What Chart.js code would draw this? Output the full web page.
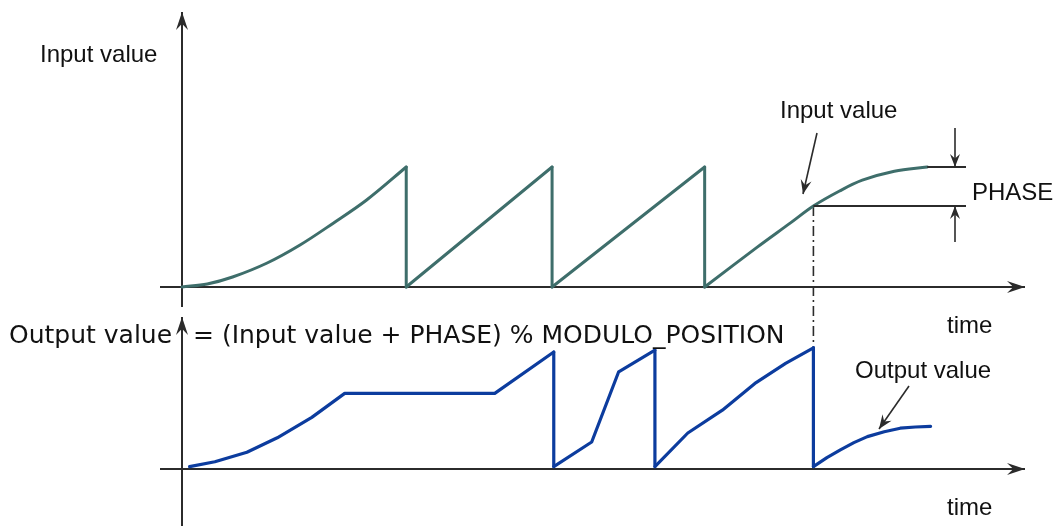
<!DOCTYPE html>
<html>
<head>
<meta charset="utf-8">
<title>Input / output value with PHASE</title>
<script src="https://cdn.jsdelivr.net/npm/chart.js@4.4.1/dist/chart.umd.min.js"></script>
<style>
    body { margin: 0; background: #fff; }
    #wrap { position: relative; width: 1058px; height: 526px; }
</style>
</head>
<body>
<div id="wrap"><canvas id="chart" width="1058" height="526"></canvas></div>
<script>
// ==========================================================================
// Data (time in arbitrary units 0..10, values in units of MODULO_POSITION)
// ==========================================================================
const inputTime  = [0, 0.30, 0.60, 1.01, 1.40, 1.79, 2.19, 2.66, 2.66, 4.39, 4.39, 6.20, 6.20, 6.82, 7.21, 7.49, 7.80, 8.07, 8.45, 8.84];
const inputValue = [0, 0.025, 0.083, 0.20, 0.35, 0.53, 0.725, 1.0, 0, 1.0, 0, 1.0, 0, 0.33, 0.53, 0.675, 0.80, 0.89, 0.965, 1.0];

const outputTime  = [0.09, 0.39, 0.77, 1.13, 1.54, 1.93, 3.71, 4.41, 4.41, 4.86, 5.18, 5.61, 5.61, 6.00, 6.41, 6.81, 7.16, 7.49, 7.49, 7.65, 7.81, 7.97, 8.13, 8.33, 8.52, 8.70, 8.88];
const outputValue = [0.02, 0.06, 0.14, 0.26, 0.43, 0.63, 0.63, 0.975, 0.02, 0.225, 0.81, 0.99, 0.02, 0.30, 0.49, 0.72, 0.88, 1.01, 0.02, 0.095, 0.16, 0.22, 0.27, 0.31, 0.34, 0.35, 0.355];

const phaseTime = 7.49;
const phaseInput = 0.675;      // input value at that instant
const phaseTop = 1.0;          // final input level
const phaseOutputPeak = 1.01;  // output value just before wrap at that instant

// ==========================================================================
// Styling
// ==========================================================================
const AXIS_COLOR = '#2b2b2b';
const TEXT_COLOR = '#111';
const INPUT_COLOR = '#3e6e6b';
const OUTPUT_COLOR = '#0c3c9e';
const LABEL_FONT = '24px "Liberation Sans", Arial, sans-serif';
const FORMULA_FONT = '25px "DejaVu Sans", Verdana, sans-serif';

function arrowHead(ctx, x, y, angle, len, half) {
    ctx.save();
    ctx.translate(x, y);
    ctx.rotate(angle);
    ctx.beginPath();
    ctx.moveTo(0, 0);
    ctx.lineTo(-len, -half);
    ctx.lineTo(-len * 0.65, 0);
    ctx.lineTo(-len, half);
    ctx.closePath();
    ctx.fill();
    ctx.restore();
}

function line(ctx, x1, y1, x2, y2) {
    ctx.beginPath();
    ctx.moveTo(x1, y1);
    ctx.lineTo(x2, y2);
    ctx.stroke();
}

function arrow(ctx, x1, y1, x2, y2, len, half) {
    line(ctx, x1, y1, x2, y2);
    arrowHead(ctx, x2, y2, Math.atan2(y2 - y1, x2 - x1), len, half);
}

// Split a series at its vertical jumps so smooth parts can be curved
// without the wrap-around edges being rounded off.
function pieces(ts, vs) {
    const out = [];
    let cur = [{ x: ts[0], y: vs[0] }];
    for (let i = 1; i < ts.length; i++) {
        if (ts[i] === ts[i - 1]) {
            out.push({ pts: cur, jump: false });
            out.push({ pts: [{ x: ts[i - 1], y: vs[i - 1] }, { x: ts[i], y: vs[i] }], jump: true });
            cur = [{ x: ts[i], y: vs[i] }];
        } else {
            cur.push({ x: ts[i], y: vs[i] });
        }
    }
    out.push({ pts: cur, jump: false });
    return out;
}

function seriesDatasets(label, ts, vs, axis, color, width, tension) {
    return pieces(ts, vs).map(p => ({
        label: label,
        data: p.pts,
        yAxisID: axis,
        borderColor: color,
        borderWidth: width,
        borderCapStyle: 'round',
        borderJoinStyle: 'round',
        pointRadius: 0,
        tension: p.jump ? 0 : tension,
        clip: false,
    }));
}

// ==========================================================================
// Axes and annotations plugin
// ==========================================================================
const diagramPlugin = {
    id: 'diagram',
    beforeDatasetsDraw(chart) {
        const { ctx, scales } = chart;
        const x = scales.x, yIn = scales.yIn, yOut = scales.yOut;
        const x0 = x.getPixelForValue(0);
        const xEnd = x.getPixelForValue(10);
        const yIn0 = yIn.getPixelForValue(0);
        const yOut0 = yOut.getPixelForValue(0);

        ctx.save();
        ctx.strokeStyle = AXIS_COLOR;
        ctx.fillStyle = AXIS_COLOR;
        ctx.lineWidth = 2;

        // top axes
        arrow(ctx, x0, yIn0 + 20, x0, chart.chartArea.top, 18, 6);
        arrow(ctx, x0 - 22, yIn0, xEnd, yIn0, 18, 6);
        // bottom axes
        arrow(ctx, x0, chart.height, x0, yOut0 - 152, 18, 6);
        arrow(ctx, x0 - 22, yOut0, xEnd, yOut0, 18, 6);

        // dash-dot link between the two plots
        const xp = x.getPixelForValue(phaseTime);
        ctx.lineWidth = 1.6;
        ctx.setLineDash([10, 4, 2, 4]);
        line(ctx, xp, yIn.getPixelForValue(phaseInput), xp, yOut.getPixelForValue(phaseOutputPeak));
        ctx.setLineDash([]);
        ctx.restore();
    },
    afterDatasetsDraw(chart) {
        const { ctx, scales } = chart;
        const x = scales.x, yIn = scales.yIn;
        const xp = x.getPixelForValue(phaseTime);
        const yLow = yIn.getPixelForValue(phaseInput);
        const yHigh = yIn.getPixelForValue(phaseTop);
        const xLast = x.getPixelForValue(inputTime[inputTime.length - 1]);

        ctx.save();
        ctx.strokeStyle = AXIS_COLOR;
        ctx.fillStyle = AXIS_COLOR;

        // PHASE dimension
        ctx.lineWidth = 2;
        line(ctx, xp, yLow, 966, yLow);
        line(ctx, xLast, yHigh, 966, yHigh);
        ctx.lineWidth = 1.6;
        arrow(ctx, 955, 128, 955, yHigh, 13, 5);
        arrow(ctx, 955, 242, 955, yLow, 13, 5);

        // pointer arrows
        arrow(ctx, 817, 133, 803, 194, 14, 5.5);
        arrow(ctx, 909, 386, 879, 429, 14, 5.5);

        // texts
        ctx.fillStyle = TEXT_COLOR;
        ctx.textBaseline = 'alphabetic';
        ctx.font = LABEL_FONT;
        ctx.textAlign = 'left';
        ctx.fillText('Input value', 40, 62);
        ctx.fillText('Input value', 780, 118);
        ctx.fillText('PHASE', 972, 200);
        ctx.fillText('time', 947, 333);
        ctx.fillText('Output value', 855, 378);
        ctx.fillText('time', 947, 515);

        ctx.font = FORMULA_FONT;
        ctx.fillText('Output value', 9, 343);
        ctx.fillText('= (Input value + PHASE) % MODULO_POSITION', 193, 343);
        ctx.restore();
    }
};

// ==========================================================================
// Chart
// ==========================================================================
new Chart(document.getElementById('chart'), {
    type: 'line',
    data: {
        datasets: [
            ...seriesDatasets('Input value', inputTime, inputValue, 'yIn', INPUT_COLOR, 3, 0.35),
            ...seriesDatasets('Output value', outputTime, outputValue, 'yOut', OUTPUT_COLOR, 3.2, 0),
        ]
    },
    options: {
        responsive: false,
        animation: false,
        devicePixelRatio: 1,
        layout: { padding: { left: 182, right: 33, top: 12, bottom: 57 } },
        scales: {
            x: { type: 'linear', min: 0, max: 10, display: false },
            // both value scales: 120 px per unit; input zero at y=287, output zero at y=469
            yIn: { type: 'linear', min: -1.517, max: 2.292, display: false },
            yOut: { type: 'linear', min: 0, max: 3.808, display: false },
        },
        plugins: { legend: { display: false }, tooltip: { enabled: false } }
    },
    plugins: [diagramPlugin]
});
</script>
</body>
</html>
